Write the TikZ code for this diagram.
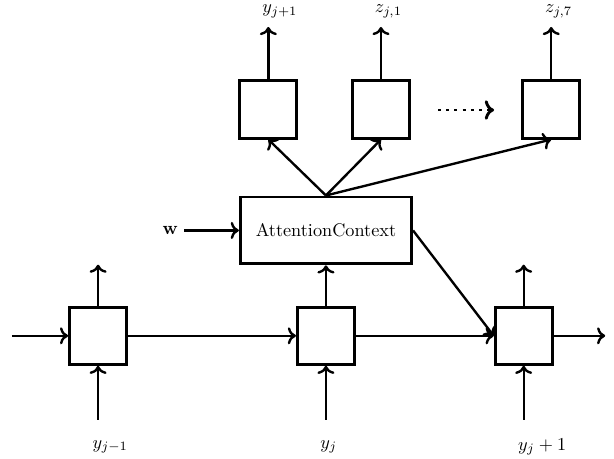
\documentclass[tikz,border=0pt]{standalone}
\usetikzlibrary{arrows.meta,positioning,calc}
\usepackage{amsmath}
\usepackage{amssymb}
\tikzset{
  cell/.style={draw,line width=1.6pt,minimum width=1.1cm,minimum height=1.1cm,inner sep=0pt},
  flow/.style={->,line width=1.3pt},
  lab/.style={anchor=west},
}
\newcommand{\Cell}[3]{%
  \node[cell] (#1) at (#2,#3) {};%
}

\begin{document}
\begin{tikzpicture}
\useasboundingbox (0,0) rectangle (11.83,8.84);
% recurrent cells
\Cell{h1}{1.89}{2.37}
\Cell{h2}{6.28}{2.37}
\Cell{h3}{10.09}{2.37}
% output cells
\Cell{o1}{5.17}{6.73}
\Cell{o2}{7.34}{6.73}
\Cell{o3}{10.62}{6.73}
\node[draw,line width=1.6pt,minimum width=3.3cm,minimum height=1.29cm] (att) at (6.28,4.40) {AttentionContext};
\node (w) at (3.28,4.40) {$\mathbf{w}$};
\draw[flow] (w) -- (att);
% chain
\coordinate (in) at (0.23,2.37);
\coordinate (out) at (11.66,2.37);
\draw[flow] (in) -- (h1);
\draw[flow] (h1) -- (h2);
\draw[flow] (h2) -- (h3);
\draw[flow] (h3) -- (out);
\draw[flow] (h2) -- (att);
\draw[flow] (att.east) -- (h3.west);
\foreach \c/\x in {h1/1.89,h3/10.09} {
  \coordinate (\c up) at (\x,3.74);
  \draw[flow] (\c) -- (\c up);
}
% inputs
\foreach \c/\x/\s in {h1/1.89/y_{j-1},h2/6.28/y_j,h3/10.09/y_j+1} {
  \coordinate (\c in) at (\x,0.75);
  \node[lab] (\c lab) at ($(\x,0.23)+(-0.23,0)$) {$\s$};
  \draw[flow] (\c in) -- (\c);
}
% outputs
\foreach \c/\x/\s in {o1/5.17/y_{j+1},o2/7.34/z_{j,1},o3/10.62/z_{j,7}} {
  \coordinate (\c up) at (\x,8.32);
  \node[lab] (\c lab) at ($(\x,8.62)+(-0.24,0)$) {$\s$};
  \draw[flow] (att.north) -- (\c.south);
  \draw[flow] (\c) -- (\c up);
}
\coordinate (dots1) at (8.44,6.72);
\coordinate (dots2) at (9.52,6.72);
\draw[flow,line width=1.6pt,dash pattern=on 1.6pt off 2.9pt] (dots1) -- (dots2);
\end{tikzpicture}
\end{document}
